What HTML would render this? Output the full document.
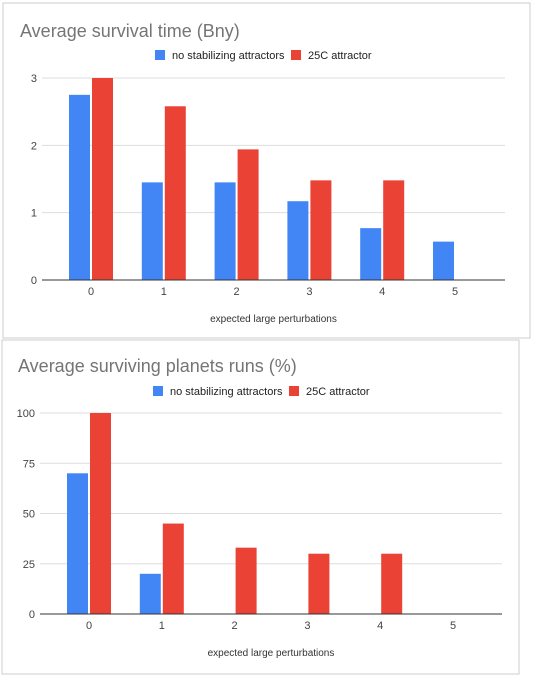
<!DOCTYPE html>
<html><head><meta charset="utf-8"><style>
body{margin:0;width:550px;height:676px;background:#fff;overflow:hidden;font-family:"Liberation Sans",Arial,sans-serif}
svg{position:absolute;left:0;top:0}
</style></head><body>
<svg width="550" height="676">
<rect x="3" y="3" width="527" height="335" fill="#fff" stroke="#ccc"/>
<rect x="2" y="340" width="517" height="334" fill="#fff" stroke="#ccc"/>
<g id="c1"></g>
<g id="c2"></g>
</svg>
<script>
const categories=["0","1","2","3","4","5"];
const c1Blue=[2.75,1.45,1.45,1.17,0.77,0.57];
const c1Red=[3,2.58,1.94,1.48,1.48,0];
const c1Ticks=[0,1,2,3];
const c2Blue=[70,20,0,0,0,0];
const c2Red=[100,45,33,30,30,0];
const c2Ticks=[0,25,50,75,100];
const NS="http://www.w3.org/2000/svg";
function mk(p,t,a,txt){const e=document.createElementNS(NS,t);for(const k in a)e.setAttribute(k,a[k]);if(txt!==undefined)e.textContent=txt;p.appendChild(e);return e;}
function draw(g,cfg){
  const y=v=>cfg.y0-(v/cfg.max)*(cfg.y0-cfg.yTop);
  const x=i=>cfg.x0+cfg.step*i;
  let t=mk(g,'text',{x:cfg.titleX,y:cfg.titleY,'font-size':18,fill:'#757575'},cfg.title);
  
  
  // legend
  let r=mk(g,'rect',{x:cfg.legX,y:cfg.legY-5,width:10,height:10,fill:'#4285f4'});
  
  t=mk(g,'text',{x:cfg.legX+17,y:cfg.legY+4,'font-size':11,fill:'#222'},'no stabilizing attractors');
  
  r=mk(g,'rect',{x:cfg.legX+136,y:cfg.legY-5,width:10,height:10,fill:'#ea4335'});
  
  t=mk(g,'text',{x:cfg.legX+153,y:cfg.legY+4,'font-size':11,fill:'#222'},'25C attractor');
  
  cfg.ticks.forEach(v=>{
    if(v>0){const l=mk(g,'line',{x1:cfg.px0,x2:cfg.px1,y1:y(v),y2:y(v),stroke:'#ddd'});
      }
    const tt=mk(g,'text',{x:cfg.px0-5,y:y(v)+4,'font-size':11,fill:'#444','text-anchor':'end'},String(v));
    
  });
  categories.forEach((c,i)=>{
    const bw=21;
    if(cfg.blue[i]>0){const b=mk(g,'rect',{x:x(i)-bw-1,y:y(cfg.blue[i]),width:bw,height:cfg.y0-y(cfg.blue[i]),fill:'#4285f4'});
      }
    if(cfg.red[i]>0){const b=mk(g,'rect',{x:x(i)+1,y:y(cfg.red[i]),width:bw,height:cfg.y0-y(cfg.red[i]),fill:'#ea4335'});
      }
    const tt=mk(g,'text',{x:x(i),y:cfg.y0+15,'font-size':11,fill:'#444','text-anchor':'middle'},c);
    
  });
  const ax=mk(g,'line',{x1:cfg.px0,x2:cfg.px1,y1:cfg.y0,y2:cfg.y0,stroke:'#333','stroke-width':1});
  
  t=mk(g,'text',{x:(cfg.px0+cfg.px1)/2,y:cfg.y0+42,'font-size':10,fill:'#333','text-anchor':'middle'},'expected large perturbations');
  
}
draw(document.getElementById('c1'),{title:'Average survival time (Bny)',titleX:20,titleY:37,legX:155,legY:55,
  y0:280,yTop:78,max:3,ticks:c1Ticks,x0:91,step:72.8,px0:42,px1:505,blue:c1Blue,red:c1Red});
draw(document.getElementById('c2'),{title:'Average surviving planets runs (%)',titleX:18,titleY:372,legX:153,legY:391,
  y0:614,yTop:413,max:100,ticks:c2Ticks,x0:89,step:72.8,px0:40,px1:502,blue:c2Blue,red:c2Red});
</script>
</body></html>
